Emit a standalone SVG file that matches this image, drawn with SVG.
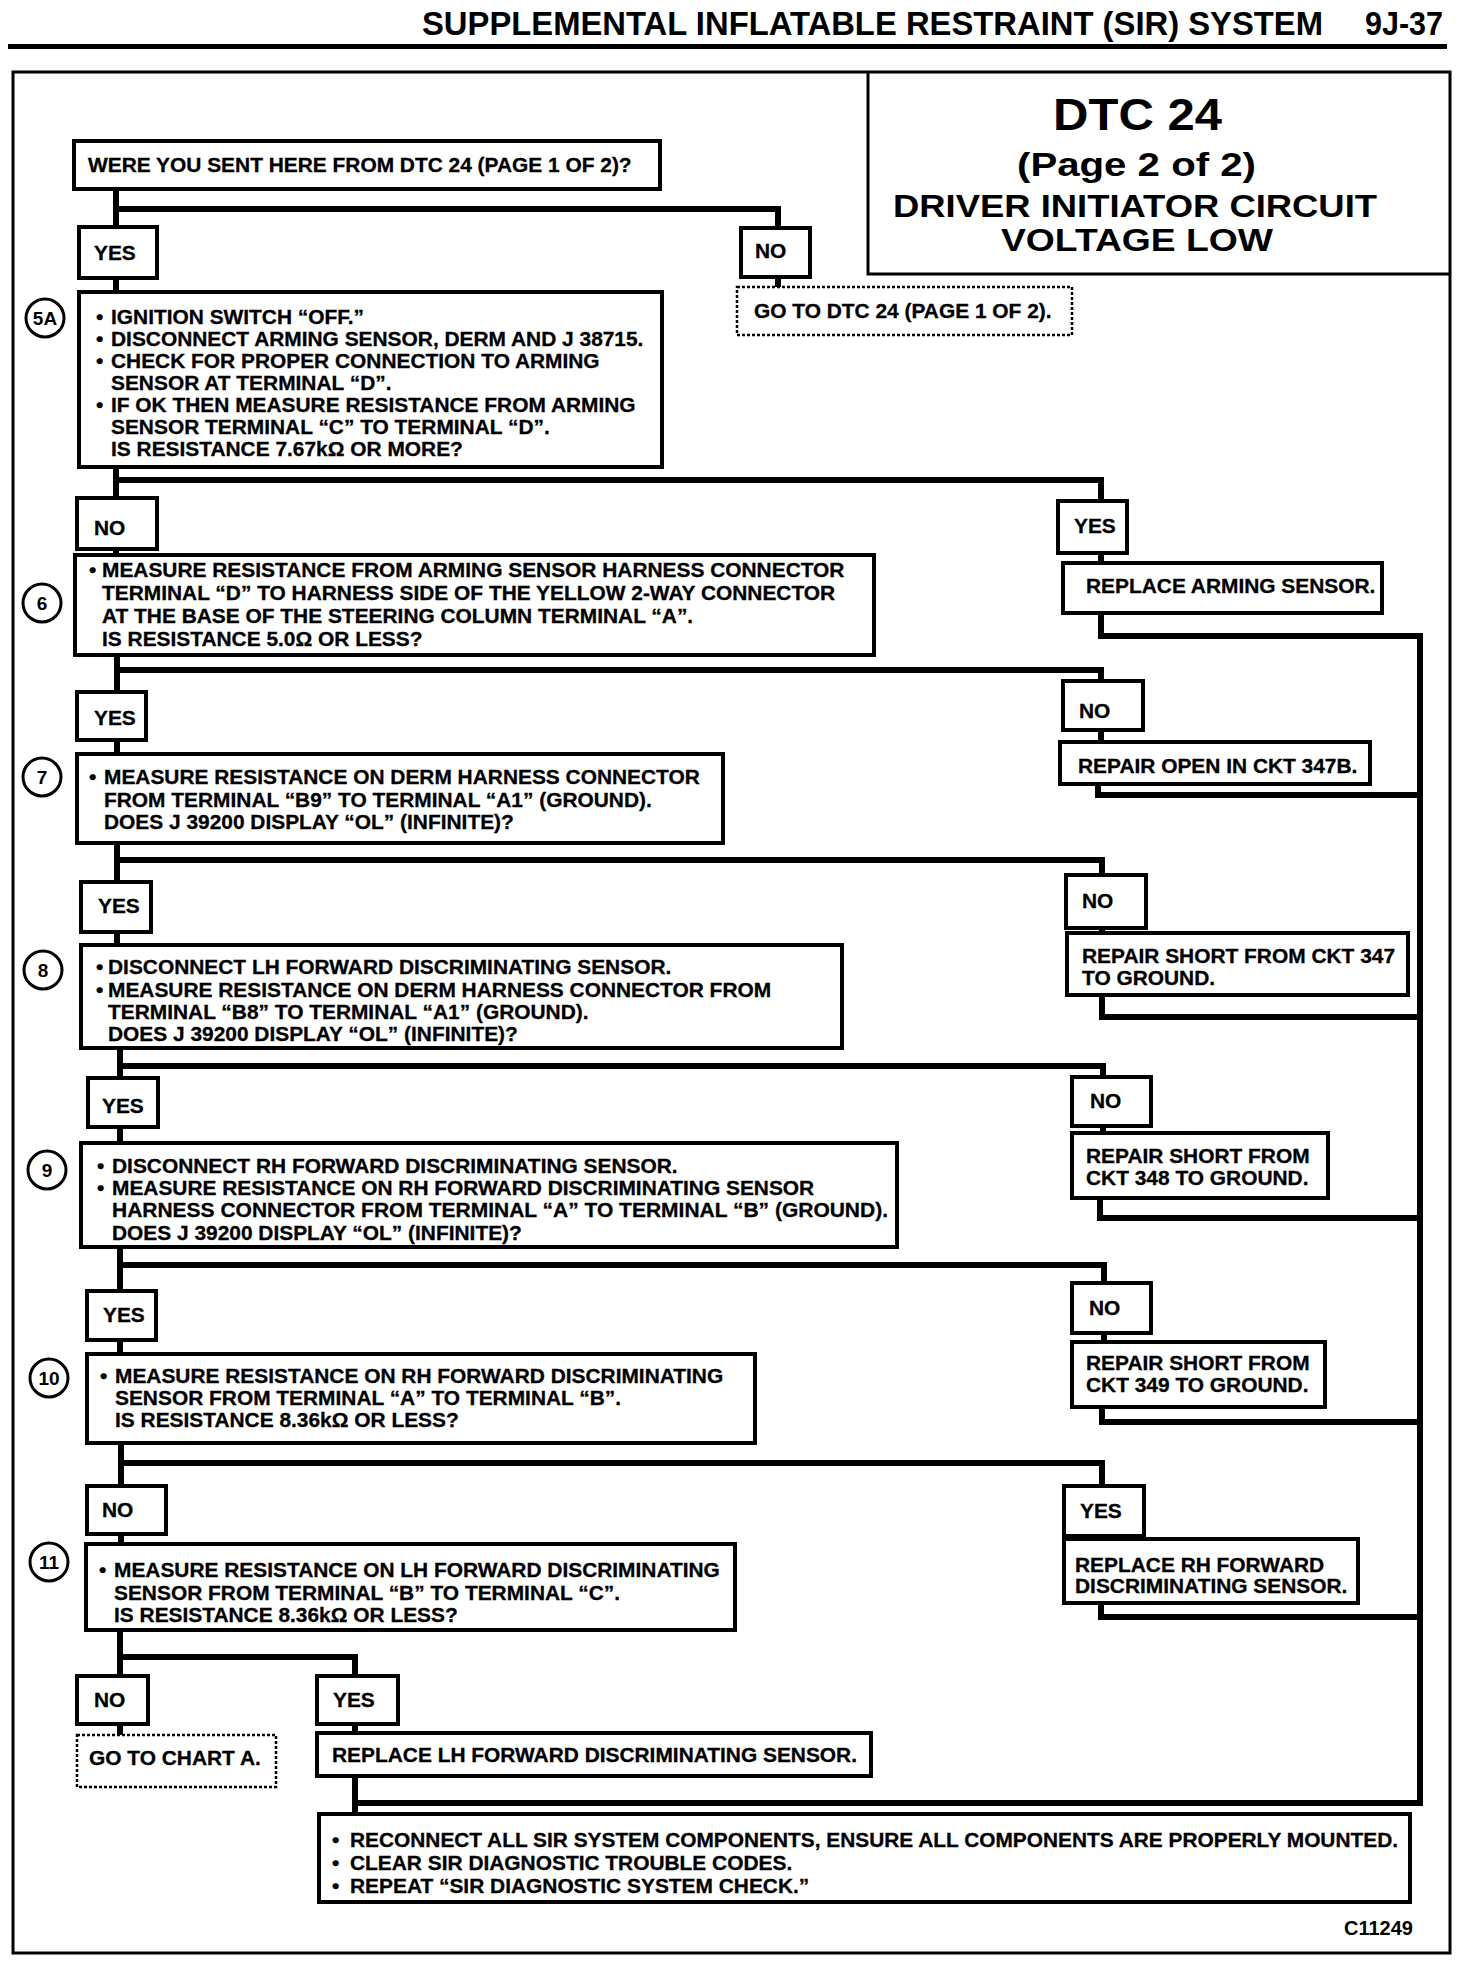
<svg xmlns="http://www.w3.org/2000/svg" width="1472" height="1978" viewBox="0 0 1472 1978">
<style>
.t{font-family:"Liberation Sans",Arial,sans-serif;font-weight:bold;font-size:20.9px;fill:#000;stroke:#000;stroke-width:0.3}
.h{font-family:"Liberation Sans",Arial,sans-serif;font-weight:bold;fill:#000}
.box{fill:#fff;stroke:#000;stroke-width:4}
.dot{fill:#fff;stroke:#000;stroke-width:2.5;stroke-dasharray:3 2}
.con{fill:none;stroke:#000;stroke-width:6;stroke-linecap:square;stroke-linejoin:miter}
.circ{fill:#fff;stroke:#000;stroke-width:3}
.ct{font-family:"Liberation Sans",Arial,sans-serif;font-weight:bold;font-size:19px;fill:#000;text-anchor:middle}
</style>
<rect width="1472" height="1978" fill="#fff"/>
<g id="header">
<text class="h" x="422" y="35" font-size="33" textLength="901" lengthAdjust="spacingAndGlyphs">SUPPLEMENTAL INFLATABLE RESTRAINT (SIR) SYSTEM</text>
<text class="h" x="1365" y="35" font-size="33" textLength="78" lengthAdjust="spacingAndGlyphs">9J-37</text>
<rect x="8" y="44" width="1439" height="5" fill="#000"/>
</g>
<rect id="frame" x="13" y="72" width="1437" height="1881" fill="none" stroke="#000" stroke-width="3"/>
<g id="title">
<path d="M868,72 V274 H1450" fill="none" stroke="#000" stroke-width="3"/>
<text class="h" x="1053" y="130" font-size="45" textLength="169" lengthAdjust="spacingAndGlyphs">DTC 24</text>
<text class="h" x="1017" y="176" font-size="34" textLength="239" lengthAdjust="spacingAndGlyphs">(Page 2 of 2)</text>
<text class="h" x="893" y="217" font-size="32" textLength="484" lengthAdjust="spacingAndGlyphs">DRIVER INITIATOR CIRCUIT</text>
<text class="h" x="1001" y="251" font-size="32" textLength="272" lengthAdjust="spacingAndGlyphs">VOLTAGE LOW</text>
</g>
<g id="connectors">
<path class="con" d="M116,189 V292 M116,209 H778 V287"/>
<path class="con" d="M116,467 V555 M116,480 H1101 V563 M1101,613 V636 H1420"/>
<path class="con" d="M117,655 V754 M117,670 H1101 V742 M1098,784 V795 H1420"/>
<path class="con" d="M117,843 V945 M117,860 H1102 V933 M1102,995 V1017 H1420"/>
<path class="con" d="M120,1047 V1143 M120,1066 H1103 V1133 M1100,1198 V1218 H1420"/>
<path class="con" d="M120,1247 V1354 M120,1265 H1104 V1342 M1102,1407 V1422 H1420"/>
<path class="con" d="M121,1443 V1544 M121,1463 H1102 V1539 M1101,1603 V1617 H1420"/>
<path class="con" d="M120,1630 V1735 M120,1657 H355 V1733"/>
<path class="con" d="M355,1776 V1814 M355,1803 H1420 V636"/>
</g>
<g id="q0">
<rect class="box" x="74" y="141" width="586" height="48"/>
<text class="t" x="88" y="172">WERE YOU SENT HERE FROM DTC 24 (PAGE 1 OF 2)?</text>
</g>
<g id="yes0"><rect class="box" x="79" y="227" width="78" height="51"/><text class="t" x="94" y="260">YES</text></g>
<g id="no0"><rect class="box" x="741" y="228" width="69" height="49"/><text class="t" x="755" y="258">NO</text></g>
<g id="goto1"><rect class="dot" x="737" y="287" width="335" height="48"/><text class="t" x="754" y="318">GO TO DTC 24 (PAGE 1 OF 2).</text></g>
<g id="step5a">
<circle class="circ" cx="45" cy="318" r="19"/><text class="ct" x="45" y="325">5A</text>
<rect class="box" x="79" y="292" width="583" height="175"/>
<text class="t" y="324"><tspan x="96">•</tspan><tspan x="111">IGNITION SWITCH “OFF.”</tspan></text>
<text class="t" y="346"><tspan x="96">•</tspan><tspan x="111">DISCONNECT ARMING SENSOR, DERM AND J 38715.</tspan></text>
<text class="t" y="368"><tspan x="96">•</tspan><tspan x="111">CHECK FOR PROPER CONNECTION TO ARMING</tspan></text>
<text class="t" x="111" y="390">SENSOR AT TERMINAL “D”.</text>
<text class="t" y="412"><tspan x="96">•</tspan><tspan x="111">IF OK THEN MEASURE RESISTANCE FROM ARMING</tspan></text>
<text class="t" x="111" y="434">SENSOR TERMINAL “C” TO TERMINAL “D”.</text>
<text class="t" x="111" y="456">IS RESISTANCE 7.67kΩ OR MORE?</text>
</g>
<g id="no5a"><rect class="box" x="77" y="498" width="80" height="51"/><text class="t" x="94" y="535">NO</text></g>
<g id="yes5a"><rect class="box" x="1058" y="501" width="69" height="52"/><text class="t" x="1074" y="533">YES</text></g>
<g id="replArm"><rect class="box" x="1063" y="563" width="319" height="50"/><text class="t" x="1086" y="593">REPLACE ARMING SENSOR.</text></g>
<g id="step6">
<circle class="circ" cx="42" cy="603" r="19"/><text class="ct" x="42" y="610">6</text>
<rect class="box" x="75" y="555" width="799" height="100"/>
<text class="t" y="577"><tspan x="89">•</tspan><tspan x="102">MEASURE RESISTANCE FROM ARMING SENSOR HARNESS CONNECTOR</tspan></text>
<text class="t" x="102" y="600">TERMINAL “D” TO HARNESS SIDE OF THE YELLOW 2-WAY CONNECTOR</text>
<text class="t" x="102" y="623">AT THE BASE OF THE STEERING COLUMN  TERMINAL “A”.</text>
<text class="t" x="102" y="646">IS RESISTANCE 5.0Ω OR LESS?</text>
</g>
<g id="yes6"><rect class="box" x="77" y="692" width="69" height="48"/><text class="t" x="94" y="725">YES</text></g>
<g id="no6"><rect class="box" x="1063" y="681" width="80" height="49"/><text class="t" x="1079" y="718">NO</text></g>
<g id="repOpen"><rect class="box" x="1060" y="742" width="310" height="42"/><text class="t" x="1078" y="773">REPAIR OPEN IN CKT 347B.</text></g>
<g id="step7">
<circle class="circ" cx="42" cy="777" r="19"/><text class="ct" x="42" y="784">7</text>
<rect class="box" x="77" y="754" width="646" height="89"/>
<text class="t" y="784"><tspan x="89">•</tspan><tspan x="104">MEASURE RESISTANCE ON DERM HARNESS CONNECTOR</tspan></text>
<text class="t" x="104" y="807">FROM TERMINAL “B9” TO TERMINAL “A1” (GROUND).</text>
<text class="t" x="104" y="829">DOES J 39200 DISPLAY “OL” (INFINITE)?</text>
</g>
<g id="yes7"><rect class="box" x="81" y="882" width="70" height="50"/><text class="t" x="98" y="913">YES</text></g>
<g id="no7"><rect class="box" x="1066" y="875" width="80" height="53"/><text class="t" x="1082" y="908">NO</text></g>
<g id="rep347"><rect class="box" x="1067" y="933" width="341" height="62"/><text class="t" x="1082" y="963">REPAIR SHORT FROM CKT 347</text><text class="t" x="1082" y="985">TO GROUND.</text></g>
<g id="step8">
<circle class="circ" cx="43" cy="970" r="19"/><text class="ct" x="43" y="977">8</text>
<rect class="box" x="81" y="945" width="761" height="103"/>
<text class="t" y="974"><tspan x="96">•</tspan><tspan x="108">DISCONNECT LH FORWARD DISCRIMINATING SENSOR.</tspan></text>
<text class="t" y="997"><tspan x="96">•</tspan><tspan x="108">MEASURE RESISTANCE ON DERM HARNESS CONNECTOR FROM</tspan></text>
<text class="t" x="108" y="1019">TERMINAL “B8” TO TERMINAL “A1” (GROUND).</text>
<text class="t" x="108" y="1041">DOES J 39200 DISPLAY “OL” (INFINITE)?</text>
</g>
<g id="yes8"><rect class="box" x="88" y="1078" width="70" height="49"/><text class="t" x="102" y="1113">YES</text></g>
<g id="no8"><rect class="box" x="1072" y="1077" width="79" height="49"/><text class="t" x="1090" y="1108">NO</text></g>
<g id="rep348"><rect class="box" x="1072" y="1133" width="256" height="65"/><text class="t" x="1086" y="1163">REPAIR SHORT FROM</text><text class="t" x="1086" y="1185">CKT 348 TO GROUND.</text></g>
<g id="step9">
<circle class="circ" cx="47" cy="1170" r="19"/><text class="ct" x="47" y="1177">9</text>
<rect class="box" x="81" y="1143" width="816" height="104"/>
<text class="t" y="1173"><tspan x="97">•</tspan><tspan x="112">DISCONNECT RH FORWARD DISCRIMINATING SENSOR.</tspan></text>
<text class="t" y="1195"><tspan x="97">•</tspan><tspan x="112">MEASURE RESISTANCE ON RH FORWARD DISCRIMINATING SENSOR</tspan></text>
<text class="t" x="112" y="1217" textLength="776" lengthAdjust="spacingAndGlyphs">HARNESS CONNECTOR FROM TERMINAL “A” TO TERMINAL “B” (GROUND).</text>
<text class="t" x="112" y="1240">DOES J 39200 DISPLAY “OL” (INFINITE)?</text>
</g>
<g id="yes9"><rect class="box" x="87" y="1291" width="69" height="49"/><text class="t" x="103" y="1322">YES</text></g>
<g id="no9"><rect class="box" x="1072" y="1283" width="79" height="50"/><text class="t" x="1089" y="1315">NO</text></g>
<g id="rep349"><rect class="box" x="1072" y="1342" width="253" height="65"/><text class="t" x="1086" y="1370">REPAIR SHORT FROM</text><text class="t" x="1086" y="1392">CKT 349 TO GROUND.</text></g>
<g id="step10">
<circle class="circ" cx="49" cy="1378" r="19"/><text class="ct" x="49" y="1385">10</text>
<rect class="box" x="87" y="1354" width="668" height="89"/>
<text class="t" y="1383"><tspan x="100">•</tspan><tspan x="115">MEASURE RESISTANCE ON RH FORWARD DISCRIMINATING</tspan></text>
<text class="t" x="115" y="1405">SENSOR FROM TERMINAL “A” TO TERMINAL “B”.</text>
<text class="t" x="115" y="1427">IS RESISTANCE 8.36kΩ OR LESS?</text>
</g>
<g id="no10"><rect class="box" x="87" y="1486" width="79" height="48"/><text class="t" x="102" y="1517">NO</text></g>
<g id="yes10"><rect class="box" x="1064" y="1486" width="80" height="50"/><text class="t" x="1080" y="1518">YES</text></g>
<g id="replRH"><rect class="box" x="1064" y="1539" width="294" height="64"/><text class="t" x="1075" y="1572">REPLACE RH FORWARD</text><text class="t" x="1075" y="1593">DISCRIMINATING SENSOR.</text></g>
<g id="step11">
<circle class="circ" cx="49" cy="1562" r="19"/><text class="ct" x="49" y="1569">11</text>
<rect class="box" x="86" y="1544" width="649" height="86"/>
<text class="t" y="1577"><tspan x="99">•</tspan><tspan x="114">MEASURE RESISTANCE ON LH FORWARD DISCRIMINATING</tspan></text>
<text class="t" x="114" y="1600">SENSOR FROM TERMINAL “B” TO TERMINAL “C”.</text>
<text class="t" x="114" y="1622">IS RESISTANCE 8.36kΩ OR LESS?</text>
</g>
<g id="no11"><rect class="box" x="77" y="1676" width="71" height="48"/><text class="t" x="94" y="1707">NO</text></g>
<g id="yes11"><rect class="box" x="317" y="1676" width="81" height="48"/><text class="t" x="333" y="1707">YES</text></g>
<g id="chartA"><rect class="dot" x="77" y="1735" width="199" height="52"/><text class="t" x="89" y="1765">GO TO CHART A.</text></g>
<g id="replLH"><rect class="box" x="317" y="1733" width="554" height="43"/><text class="t" x="332" y="1762">REPLACE LH FORWARD DISCRIMINATING SENSOR.</text></g>
<g id="final">
<rect class="box" x="319" y="1814" width="1091" height="88"/>
<text class="t" y="1847"><tspan x="332">•</tspan><tspan x="350" textLength="1048" lengthAdjust="spacingAndGlyphs">RECONNECT ALL SIR SYSTEM COMPONENTS, ENSURE ALL COMPONENTS ARE PROPERLY MOUNTED.</tspan></text>
<text class="t" y="1870"><tspan x="332">•</tspan><tspan x="350">CLEAR SIR DIAGNOSTIC TROUBLE CODES.</tspan></text>
<text class="t" y="1893"><tspan x="332">•</tspan><tspan x="350">REPEAT “SIR DIAGNOSTIC SYSTEM CHECK.”</tspan></text>
</g>
<text id="figno" class="h" x="1344" y="1935" font-size="20">C11249</text>
</svg>
